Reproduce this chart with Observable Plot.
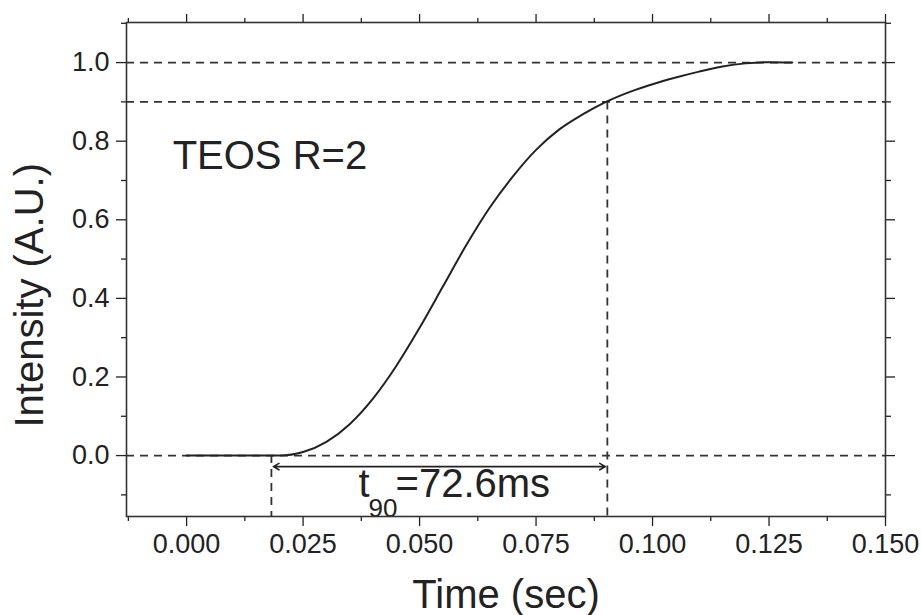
<!DOCTYPE html>
<html>
<head>
<meta charset="utf-8">
<script src="https://cdn.jsdelivr.net/npm/d3@7"></script>
<script src="https://cdn.jsdelivr.net/npm/@observablehq/plot@0.6"></script>
<style>
  html, body { margin: 0; padding: 0; background: #fff; }
  #chart svg { display: block; }
</style>
</head>
<body>
<div id="chart"></div>
<script>
// ---- data ----
const time = [0, 0.005, 0.010, 0.015, 0.020, 0.025, 0.030, 0.035, 0.040, 0.045, 0.050, 0.055, 0.060, 0.065, 0.070, 0.075, 0.080, 0.085, 0.090, 0.095, 0.100, 0.105, 0.110, 0.115, 0.120, 0.125, 0.130];
const intensity = [0, 0, 0, 0, 0.000, 0.009, 0.035, 0.080, 0.145, 0.228, 0.325, 0.430, 0.535, 0.630, 0.710, 0.778, 0.830, 0.868, 0.900, 0.925, 0.945, 0.962, 0.977, 0.990, 0.998, 1.001, 1.000];
const refLevels = [0, 0.9, 1.0];
const tStart = 0.0182;
const t90 = 0.0903;
const xTicks = [0, 0.025, 0.05, 0.075, 0.1, 0.125, 0.15];
const xMinor = [-0.0125, 0.0125, 0.0375, 0.0625, 0.0875, 0.1125, 0.1375];
const yTicks = [0, 0.2, 0.4, 0.6, 0.8, 1.0];
const yMinor = [-0.1, 0.1, 0.3, 0.5, 0.7, 0.9, 1.1];
const sampleLabel = "TEOS R=2";
const xLabel = "Time (sec)";
const yLabel = "Intensity (A.U.)";

const data = time.map((t, i) => ({t, v: intensity[i]}));
const yDomain = [-0.155, 1.102];
const ink = "#222";
const dash = {stroke: "#333", strokeWidth: 1.8, strokeDasharray: "8,6"};
const font = "Liberation Sans, Arial, Helvetica, sans-serif";

const plot = Plot.plot({
  width: 921,
  height: 615,
  marginLeft: 126,
  marginRight: 36,
  marginTop: 22,
  marginBottom: 99,
  style: {fontFamily: font, background: "#fff", color: ink, overflow: "visible"},
  x: {domain: [-0.0129, 0.150]},
  y: {domain: yDomain},
  marks: [
    // reference dashed lines
    Plot.ruleY(refLevels, dash),
    Plot.ruleX([tStart], {...dash, y1: 0, y2: yDomain[0]}),
    Plot.ruleX([t90], {...dash, y1: 0.9, y2: yDomain[0]}),
    // the curve
    Plot.line(data, {x: "t", y: "v", curve: "monotone-x", stroke: ink, strokeWidth: 2}),
    // t90 double arrow
    Plot.arrow([0], {x1: (tStart + t90) / 2, x2: t90, y1: -0.028, y2: -0.028, bend: 0, headLength: 6, stroke: ink, strokeWidth: 1.6, insetEnd: 2}),
    Plot.arrow([0], {x1: (tStart + t90) / 2, x2: tStart, y1: -0.028, y2: -0.028, bend: 0, headLength: 6, stroke: ink, strokeWidth: 1.6, insetEnd: 2}),
    // annotations
    Plot.text([sampleLabel], {x: -0.003, y: 0.729, text: d => d, textAnchor: "start", lineAnchor: "bottom", fontSize: 40, fill: ink}),
    Plot.text(["t"], {x: 0.0369, y: -0.1045, text: d => d, textAnchor: "start", lineAnchor: "bottom", fontSize: 40, fill: ink}),
    Plot.text(["90"], {x: 0.0369, y: -0.1045, text: d => d, dx: 10, dy: 20, textAnchor: "start", lineAnchor: "bottom", fontSize: 26, fill: ink}),
    Plot.text(["=72.6ms"], {x: 0.0369, y: -0.1045, text: d => d, dx: 37, textAnchor: "start", lineAnchor: "bottom", fontSize: 40, fill: ink}),
    // axes: major ticks with labels
    Plot.axisX({anchor: "bottom", ticks: xTicks, tickSize: 10, tickPadding: 7, tickFormat: d3.format(".3f"), fontSize: 27, label: null, stroke: ink, strokeWidth: 1.3}),
    Plot.axisX({anchor: "bottom", ticks: xMinor, tickSize: 5, fill: "none", label: null, stroke: ink, strokeWidth: 1.3}),
    Plot.axisX({anchor: "top", ticks: xTicks, tickSize: 9, fill: "none", label: null, stroke: ink, strokeWidth: 1.3}),
    Plot.axisX({anchor: "top", ticks: xMinor, tickSize: 5, fill: "none", label: null, stroke: ink, strokeWidth: 1.3}),
    Plot.axisY({anchor: "left", ticks: yTicks, tickSize: 10, tickPadding: 7, tickFormat: d3.format(".1f"), fontSize: 27, label: null, stroke: ink, strokeWidth: 1.3}),
    Plot.axisY({anchor: "left", ticks: yMinor, tickSize: 5, fill: "none", label: null, stroke: ink, strokeWidth: 1.3}),
    Plot.axisY({anchor: "right", ticks: yTicks, tickSize: 9, fill: "none", label: null, stroke: ink, strokeWidth: 1.3}),
    Plot.axisY({anchor: "right", ticks: yMinor, tickSize: 5, fill: "none", label: null, stroke: ink, strokeWidth: 1.3}),
    // axis titles
    Plot.text([xLabel], {frameAnchor: "bottom", text: d => d, dy: 91, textAnchor: "middle", lineAnchor: "bottom", fontSize: 40, fill: ink}),
    Plot.text([yLabel], {frameAnchor: "left", y: 0.408, text: d => d, dx: -84, rotate: -90, textAnchor: "middle", lineAnchor: "bottom", fontSize: 40, fill: ink}),
    // frame on top
    Plot.frame({stroke: "#333", strokeWidth: 1.6})
  ]
});
document.getElementById("chart").appendChild(plot);
</script>
</body>
</html>
